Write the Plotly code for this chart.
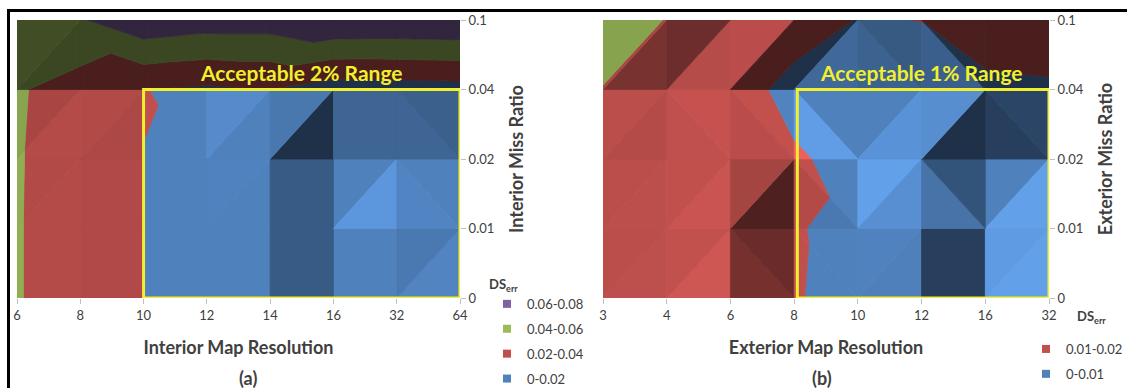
import numpy as np
import plotly.graph_objects as go

# ---------------- data ----------------
interior_res = ["6", "8", "10", "12", "14", "16", "32", "64"]
interior_miss = ["0", "0.01", "0.02", "0.04", "0.1"]
# DS_err, one row per interior miss ratio, one column per interior map resolution
interior_ds = [
    [0.0410, 0.0310, 0.0199, 0.0196, 0.0194, 0.0020, 0.0025, 0.0040],
    [0.0410, 0.0310, 0.0199, 0.0196, 0.0194, 0.0020, 0.0060, 0.0030],
    [0.0412, 0.0310, 0.0199, 0.0190, 0.0194, 0.0020, 0.0025, 0.0030],
    [0.0420, 0.0310, 0.0203, 0.0170, 0.0198, 0.0100, 0.0105, 0.0120],
    [0.0560, 0.0580, 0.0750, 0.0700, 0.0700, 0.0790, 0.0780, 0.0790],
]
interior_bands = [0.0, 0.02, 0.04, 0.06, 0.08]
interior_labels = ["0-0.02", "0.02-0.04", "0.04-0.06", "0.06-0.08"]

exterior_res = ["3", "4", "6", "8", "10", "12", "16", "32"]
exterior_miss = ["0", "0.01", "0.02", "0.04", "0.1"]
exterior_ds = [
    [0.0195, 0.0170, 0.0185, 0.0102, 0.0090, 0.0085, 0.0010, 0.0080],
    [0.0196, 0.0170, 0.0180, 0.0103, 0.0088, 0.0090, 0.0015, 0.0075],
    [0.0197, 0.0170, 0.0175, 0.0115, 0.0060, 0.0075, 0.0025, 0.0040],
    [0.0199, 0.0175, 0.0160, 0.0060, 0.0065, 0.0065, 0.0075, 0.0085],
    [0.0215, 0.0199, 0.0170, 0.0160, 0.0095, 0.0101, 0.0160, 0.0165],
]
exterior_bands = [0.0, 0.01, 0.02, 0.03]
exterior_labels = ["0-0.01", "0.01-0.02", "0.02-0.03"]
exterior_legend_count = 2

BAND_COLORS = ["#4F81BD", "#C0504D", "#9BBB59", "#8064A2"]
TEXT = "#404040"
FONT = "Lato"


def hex_rgb(h):
    h = h.lstrip("#")
    return np.array([int(h[k:k + 2], 16) for k in (0, 2, 4)], dtype=float)


def shaded(hex_color, f):
    rgb = np.clip(hex_rgb(hex_color) * f, 0, 255)
    return "rgb(%d,%d,%d)" % tuple(int(round(v)) for v in rgb)


def clip_level(poly, level, keep_above):
    out = []
    n = len(poly)
    for k in range(n):
        p, q = poly[k], poly[(k + 1) % n]
        pin = p[2] >= level if keep_above else p[2] <= level
        qin = q[2] >= level if keep_above else q[2] <= level
        if pin:
            out.append(p)
        if pin != qin:
            t = (level - p[2]) / (q[2] - p[2])
            out.append(tuple(p[m] + t * (q[m] - p[m]) for m in range(3)))
    return out


def facet_shade(tri, zrange):
    """Brightness of a facet lit from the upper left, seen from above."""
    (x0, y0, z0), (x1, y1, z1), (x2, y2, z2) = tri
    a = np.array([[x1 - x0, y1 - y0], [x2 - x0, y2 - y0]])
    gx, gy = np.linalg.solve(a, [z1 - z0, z2 - z0])
    d = (2.0 * gy - 1.0 * gx) / zrange
    if d > 0:
        return 1 - 0.62 * np.tanh((d / 0.27) ** 3)
    return 1 + 0.24 * np.tanh((d / 0.15) ** 2)


def surface_traces(z, bands, xaxis, yaxis):
    z = np.asarray(z, dtype=float)
    ny, nx = z.shape
    zrange = bands[-1] - bands[0]
    groups = {}
    for j in range(ny - 1):
        for i in range(nx - 1):
            bl = (i, j, z[j, i]); br = (i + 1, j, z[j, i + 1])
            tl = (i, j + 1, z[j + 1, i]); tr = (i + 1, j + 1, z[j + 1, i + 1])
            if abs(tl[2] - br[2]) <= abs(bl[2] - tr[2]):
                tris = [(bl, br, tl), (br, tr, tl)]
            else:
                tris = [(bl, br, tr), (bl, tr, tl)]
            for tri in tris:
                f = facet_shade(tri, zrange)
                for b in range(len(bands) - 1):
                    piece = clip_level(list(tri), bands[b], True)
                    if len(piece) >= 3:
                        piece = clip_level(piece, bands[b + 1], False)
                    if len(piece) < 3:
                        continue
                    col = shaded(BAND_COLORS[b], f)
                    groups.setdefault(col, []).append(piece)
    traces = []
    for col, polys in groups.items():
        xs, ys = [], []
        for p in polys:
            xs += [v[0] for v in p] + [p[0][0], None]
            ys += [v[1] for v in p] + [p[0][1], None]
        traces.append(go.Scatter(
            x=xs, y=ys, mode="lines", fill="toself", fillcolor=col,
            line=dict(color=col, width=0.8), hoverinfo="skip",
            showlegend=False, xaxis=xaxis, yaxis=yaxis))
    return traces


fig = go.Figure()
for t in surface_traces(interior_ds, interior_bands, "x", "y"):
    fig.add_trace(t)
for t in surface_traces(exterior_ds, exterior_bands, "x2", "y2"):
    fig.add_trace(t)

# legends, highest band first
for b in reversed(range(len(interior_labels))):
    fig.add_trace(go.Scatter(
        x=[None], y=[None], mode="markers", name=interior_labels[b],
        marker=dict(symbol="square", size=8, color=BAND_COLORS[b]),
        legend="legend", legendgroup="a%d" % b, xaxis="x", yaxis="y"))
for b in reversed(range(exterior_legend_count)):
    fig.add_trace(go.Scatter(
        x=[None], y=[None], mode="markers", name=exterior_labels[b],
        marker=dict(symbol="square", size=8, color=BAND_COLORS[b]),
        legend="legend2", legendgroup="b%d" % b, xaxis="x2", yaxis="y2"))

W, H = 1127, 388
py0, py1 = 298, 20


def px_x(v):
    return v / W


def px_y(v):
    return 1 - v / H


tick_font = dict(family=FONT, size=13, color=TEXT)
title_font = dict(family=FONT, size=18, color=TEXT)


def xaxis_cfg(x0, x1, labels, title, anchor):
    return dict(domain=[px_x(x0), px_x(x1)], range=[0, len(labels) - 1],
                tickvals=list(range(len(labels))), ticktext=labels,
                showgrid=False, zeroline=False, showline=False, automargin=False,
                ticks="outside", ticklen=5, tickcolor="#BFBFBF",
                tickfont=tick_font, anchor=anchor,
                title=dict(text="<b>%s</b>" % title, font=title_font, standoff=19))


def yaxis_cfg(labels, title, anchor):
    return dict(domain=[px_y(py0), px_y(py1)], range=[0, len(labels) - 1],
                tickvals=list(range(len(labels))), ticktext=labels,
                side="right", showgrid=False, zeroline=False, showline=False,
                automargin=False,
                ticks="outside", ticklen=5, tickcolor="#BFBFBF",
                tickfont=tick_font, anchor=anchor,
                title=dict(text="<b>%s</b>" % title, font=title_font, standoff=16))


legend_common = dict(
    bgcolor="rgba(0,0,0,0)", font=dict(family=FONT, size=13, color=TEXT),
    itemwidth=30, tracegroupgap=5, xanchor="left", yanchor="top")

fig.update_layout(
    width=W, height=H, margin=dict(l=0, r=0, t=0, b=0, autoexpand=False),
    paper_bgcolor="white", plot_bgcolor="white",
    xaxis=xaxis_cfg(17, 460, interior_res, "Interior Map Resolution", "y"),
    yaxis=yaxis_cfg(interior_miss, "Interior Miss Ratio", "x"),
    xaxis2=xaxis_cfg(603, 1049, exterior_res, "Exterior Map Resolution", "y2"),
    yaxis2=yaxis_cfg(exterior_miss, "Exterior Miss Ratio", "x2"),
    legend=dict(legend_common, x=px_x(487), y=px_y(272),
                title=dict(text="<b>DS<sub>err</sub></b>", side="top",
                           font=dict(family=FONT, size=13, color=TEXT))),
    legend2=dict(legend_common, x=px_x(1026), y=px_y(334)),
    showlegend=True,
)

# title of the exterior legend
fig.add_annotation(xref="paper", yref="paper", x=px_x(1075), y=px_y(317),
                   xanchor="left", yanchor="middle", text="<b>DS<sub>err</sub></b>",
                   showarrow=False, font=dict(family=FONT, size=13, color=TEXT))

yellow = "#F2EF2E"
# acceptable ranges
fig.add_shape(type="rect", xref="x", yref="y", x0=2, x1=7, y0=0, y1=3,
              line=dict(color=yellow, width=3))
fig.add_shape(type="rect", xref="x2", yref="y2", x0=3.05, x1=7, y0=0, y1=3,
              line=dict(color=yellow, width=3))
fig.add_annotation(xref="x", yref="y", x=4.5, y=3.25, text="<b>Acceptable 2% Range</b>",
                   showarrow=False, font=dict(family=FONT, size=21, color=yellow))
fig.add_annotation(xref="x2", yref="y2", x=5.0, y=3.25, text="<b>Acceptable 1% Range</b>",
                   showarrow=False, font=dict(family=FONT, size=21, color=yellow))

# panel captions
fig.add_annotation(xref="paper", yref="paper", x=px_x(237), y=px_y(378),
                   yanchor="middle", text="<b>(a)</b>",
                   showarrow=False, font=dict(family=FONT, size=18, color=TEXT))
fig.add_annotation(xref="paper", yref="paper", x=px_x(834), y=px_y(378),
                   yanchor="middle", text="<b>(b)</b>",
                   showarrow=False, font=dict(family=FONT, size=18, color=TEXT))

# frame around the figure
fig.add_shape(type="rect", xref="paper", yref="paper", x0=px_x(8.5), x1=1.05,
              y0=-0.05, y1=px_y(10.5), line=dict(color="black", width=3))

fig.write_html("out.html")
